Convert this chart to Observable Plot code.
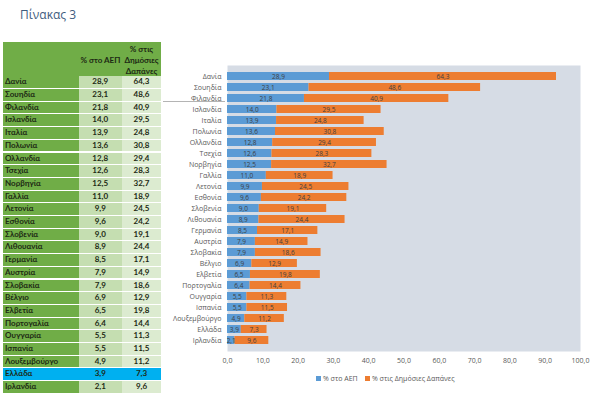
<!DOCTYPE html>
<html>
<head>
<meta charset="utf-8">
<script src="https://cdn.jsdelivr.net/npm/d3@7"></script>
<script src="https://cdn.jsdelivr.net/npm/@observablehq/plot@0.6"></script>
<style>
  html, body { margin: 0; padding: 0; background: #fff; }
  #wrap { position: relative; width: 600px; height: 394px; overflow: hidden; font-family: "Open Sans", sans-serif; }
  #title { position: absolute; left: 20px; top: 6px; font-family: "Open Sans", sans-serif; font-size: 12px; color: #3e5c7e; }
  #chart { position: absolute; left: 0; top: 0; }
  .cell { position: absolute; box-sizing: border-box; font-family: Lato, "Open Sans", sans-serif; font-weight: 700; font-size: 8px; line-height: 11.7px; color: #1d2a14; white-space: nowrap; }
  .legend { position: absolute; top: 374px; font-size: 7px; color: #595959; font-family: "Open Sans", sans-serif; white-space: nowrap; }
  .sw { display: inline-block; width: 5px; height: 5px; margin-right: 2px; vertical-align: -0px; }
</style>
</head>
<body>
<div id="wrap">
  <div id="title">Πίνακας 3</div>
  <div id="chart"></div>
  <div id="table"></div>
</div>
<script>
const countries = ["Δανία","Σουηδία","Φιλανδία","Ισλανδία","Ιταλία","Πολωνία","Ολλανδία","Τσεχία","Νορβηγία","Γαλλία","Λετονία","Εσθονία","Σλοβενία","Λιθουανία","Γερμανία","Αυστρία","Σλοβακία","Βέλγιο","Ελβετία","Πορτογαλία","Ουγγαρία","Ισπανία","Λουξεμβούργο","Ελλάδα","Ιρλανδία"];
const gdp = [28.9,23.1,21.8,14.0,13.9,13.6,12.8,12.6,12.5,11.0,9.9,9.6,9.0,8.9,8.5,7.9,7.9,6.9,6.5,6.4,5.5,5.5,4.9,3.9,2.1];
const spending = [64.3,48.6,40.9,29.5,24.8,30.8,29.4,28.3,32.7,18.9,24.5,24.2,19.1,24.4,17.1,14.9,18.6,12.9,19.8,14.4,11.3,11.5,11.2,7.3,9.6];
const seriesNames = ["% στο ΑΕΠ", "% στις Δημόσιες Δαπάνες"];
const seriesColors = ["#5b9bd5", "#ed7d31"];
const xTicks = [0,10,20,30,40,50,60,70,80,90,100];
const tableHeader = ["% στο ΑΕΠ", "% στις", "Δημόσιες", "Δαπάνες"];

const fmt = v => v.toFixed(1).replace(".", ",");

const rows = [];
countries.forEach((c, i) => {
  rows.push({country: c, series: seriesNames[0], value: gdp[i]});
  rows.push({country: c, series: seriesNames[1], value: spending[i]});
});

const chart = Plot.plot({
  width: 600,
  height: 394,
  marginLeft: 227,
  marginRight: 20,
  marginTop: 65,
  marginBottom: 43,
  style: {fontFamily: "'Open Sans', sans-serif", fontSize: "7px", color: "#595959", background: "transparent"},
  x: {domain: [0, 100], ticks: xTicks, tickFormat: fmt, tickSize: 0, tickPadding: 7, label: null},
  y: {domain: countries, padding: 0.25, tickSize: 0, tickPadding: 6, label: null},
  color: {domain: seriesNames, range: seriesColors},
  marks: [
    Plot.frame({fill: "#d6dce5", stroke: null}),
    Plot.barX(rows, Plot.stackX({x: "value", y: "country", fill: "series", order: null})),
    Plot.textX(rows, Plot.stackX({x: "value", y: "country", text: d => fmt(d.value), fill: "#3f3f3f", fontSize: 6.5, order: null}))
  ]
});
document.getElementById("chart").appendChild(chart);

// Table (left)
const wrap = document.getElementById("wrap");
function cell(x, y, w, h, bg, text, align) {
  const d = document.createElement("div");
  d.className = "cell";
  d.style.left = x + "px"; d.style.top = y + "px";
  d.style.width = w + "px"; d.style.height = h + "px";
  d.style.background = bg;
  d.style.textAlign = align || "center";
  if (align === "left") d.style.paddingLeft = "2px";
  if (text != null) d.textContent = text;
  wrap.appendChild(d);
  return d;
}
// header
const hdr = cell(3, 42, 158, 33.5, "#70ad47", null);
const h1 = document.createElement("div");
h1.style.cssText = "position:absolute;left:76px;width:43px;top:13px;text-align:center;line-height:11px;";
h1.textContent = tableHeader[0];
hdr.appendChild(h1);
const h2 = document.createElement("div");
h2.style.cssText = "position:absolute;left:119px;width:39px;top:2px;text-align:center;line-height:11px;";
h2.innerHTML = tableHeader.slice(1).join("<br>");
hdr.appendChild(h2);

const rowTop = 76.3, rowH = 12.7;
countries.forEach((c, i) => {
  const y = rowTop + i * rowH;
  const greece = c === "Ελλάδα";
  cell(3, y, 75.5, rowH - 1, greece ? "#00b0f0" : "#70ad47", c, "left");
  cell(79, y, 42.5, rowH - 1, greece ? "#00b0f0" : "#c5deb1", fmt(gdp[i]));
  cell(122, y, 39, rowH - 1, greece ? "#00b0f0" : "#dcebd0", fmt(spending[i]));
});

// small stray connector line
const ln = document.createElement("div");
ln.style.cssText = "position:absolute;left:163px;top:101px;width:62px;height:1px;background:#b4b4b4;";
wrap.appendChild(ln);

// legend
seriesNames.forEach((s, i) => {
  const d = document.createElement("div");
  d.className = "legend";
  d.style.left = (i === 0 ? 316 : 365) + "px";
  d.innerHTML = `<span class="sw" style="background:${seriesColors[i]}"></span>${s}`;
  wrap.appendChild(d);
});
</script>
</body>
</html>
